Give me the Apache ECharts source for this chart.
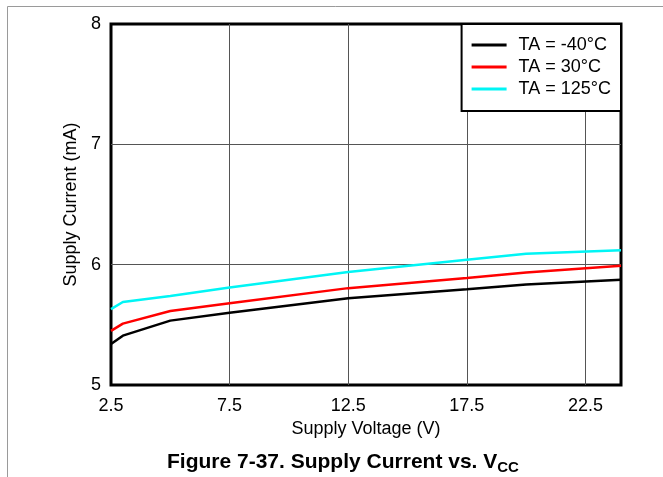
<!DOCTYPE html>
<html>
<head>
<meta charset="utf-8">
<script src="https://cdn.jsdelivr.net/npm/echarts@6/dist/echarts.min.js"></script>
<style>
  html, body { margin: 0; padding: 0; background: #fff; }
  #container { width: 663px; height: 477px; }
</style>
</head>
<body>
<div id="container"></div>
<script>
// supply voltage (V)
const voltage = [2.5, 3, 5, 7.5, 12.5, 17.5, 20, 24];
// supply current (mA) per temperature
const currentM40 = [5.34, 5.41, 5.535, 5.60, 5.72, 5.795, 5.835, 5.875];
const current30 = [5.45, 5.51, 5.615, 5.68, 5.805, 5.89, 5.935, 5.99];
const current125 = [5.63, 5.69, 5.74, 5.81, 5.94, 6.04, 6.09, 6.12];
const seriesNames = ['TA = -40°C', 'TA = 30°C', 'TA = 125°C'];
const xTicks = [2.5, 7.5, 12.5, 17.5, 22.5];

const font = 'Arial, "Liberation Sans", sans-serif';
const myChart = echarts.init(document.getElementById('container'));

const toPairs = (ys) => voltage.map((x, i) => [x, ys[i]]);

const option = {
    animation: false,
    color: ['#000000', '#ff0000', '#00f5f5'],
    title: {
        text: '{a|Figure 7-37. Supply Current vs. V}{b|CC}',
        left: 162,
        top: 444,
        textStyle: {
            rich: {
                a: { fontFamily: font, fontSize: 21, fontWeight: 'bold', color: '#000', lineHeight: 26 },
                b: { fontFamily: font, fontSize: 15, fontWeight: 'bold', color: '#000', lineHeight: 16, verticalAlign: 'bottom' }
            }
        }
    },
    graphic: [{
        type: 'rect',
        shape: { x: 7.5, y: 6.5, width: 700, height: 500 },
        style: { fill: 'none', stroke: '#9a9a9a', lineWidth: 1 },
        silent: true
    }],
    grid: {
        left: 111,
        top: 24,
        right: 42,
        bottom: 92,
        show: true,
        borderColor: '#000',
        borderWidth: 3,
        backgroundColor: '#fff'
    },
    legend: {
        orient: 'vertical',
        right: 42,
        top: 24,
        data: seriesNames,
        icon: 'rect',
        itemWidth: 35,
        itemHeight: 3,
        itemGap: 4,
        padding: [12, 10, 13, 10],
        backgroundColor: '#fff',
        borderColor: '#000',
        borderWidth: 2,
        borderRadius: 0,
        textStyle: { fontFamily: font, fontSize: 18, color: '#000', padding: [0, 0, 0, 7] }
    },
    xAxis: {
        type: 'value',
        min: 2.5,
        max: 24,
        interval: 5,
        name: 'Supply Voltage (V)',
        nameLocation: 'middle',
        nameGap: 33,
        nameTextStyle: { fontFamily: font, fontSize: 18, color: '#000' },
        axisLine: { show: false },
        axisTick: { show: false },
        axisLabel: {
            fontFamily: font, fontSize: 18, color: '#000', margin: 12,
            showMaxLabel: false,
            formatter: (v) => xTicks.includes(v) ? v.toFixed(1) : ''
        },
        splitLine: { show: true, showMinLine: false, showMaxLine: false, lineStyle: { color: '#555', width: 1 } }
    },
    yAxis: {
        type: 'value',
        min: 5,
        max: 8,
        interval: 1,
        name: 'Supply Current (mA)',
        nameLocation: 'middle',
        nameGap: 30,
        nameTextStyle: { fontFamily: font, fontSize: 18, color: '#000' },
        axisLine: { show: false },
        axisTick: { show: false },
        axisLabel: { fontFamily: font, fontSize: 18, color: '#000', margin: 10 },
        splitLine: { show: true, showMinLine: false, showMaxLine: false, lineStyle: { color: '#555', width: 1 } }
    },
    series: [
        { name: seriesNames[0], type: 'line', symbol: 'none', lineStyle: { width: 2.5 }, data: toPairs(currentM40) },
        { name: seriesNames[1], type: 'line', symbol: 'none', lineStyle: { width: 2.5 }, data: toPairs(current30) },
        { name: seriesNames[2], type: 'line', symbol: 'none', lineStyle: { width: 2.5 }, data: toPairs(current125) }
    ]
};
myChart.setOption(option);
window.addEventListener('resize', () => {
    myChart.resize()
})
</script>
</body>
</html>
